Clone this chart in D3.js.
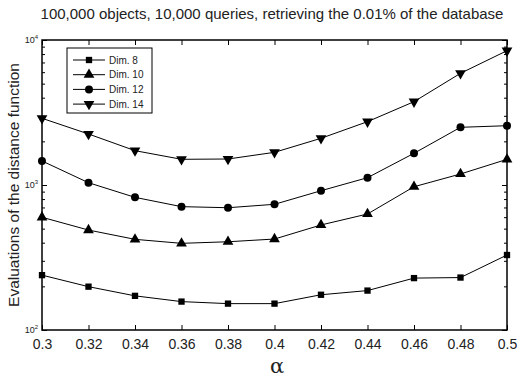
<!DOCTYPE html>
<html>
<head>
<meta charset="utf-8">
<script src="https://cdn.jsdelivr.net/npm/d3@7"></script>
<style>
  body { margin: 0; background: #fff; }
  text { font-family: "Liberation Sans", Arial, sans-serif; fill: #222; }
</style>
</head>
<body>
<div id="chart"></div>
<script>
/** x values (alpha) */
var alphas = [0.3, 0.32, 0.34, 0.36, 0.38, 0.4, 0.42, 0.44, 0.46, 0.48, 0.5];

/** evaluations of the distance function for each dimension */
var dim8  = [239, 199, 172, 157, 152, 152, 175, 187, 228, 230, 329];
var dim10 = [599, 489, 422, 396, 406, 424, 530, 631, 973, 1191, 1503];
var dim12 = [1465, 1037, 822, 709, 697, 736, 913, 1123, 1654, 2500, 2564];
var dim14 = [2884, 2248, 1725, 1504, 1511, 1680, 2099, 2733, 3755, 5893, 8440];

var seriesNames = ["Dim. 8", "Dim. 10", "Dim. 12", "Dim. 14"];
var xTicks = [0.3, 0.32, 0.34, 0.36, 0.38, 0.4, 0.42, 0.44, 0.46, 0.48, 0.5];
var yDecades = [100, 1000, 10000];

var W = 520, H = 380;
var margin = {top: 40, right: 13, bottom: 50, left: 42};
var width = W - margin.left - margin.right,
    height = H - margin.top - margin.bottom;

var svg = d3.select("#chart").append("svg")
  .attr("width", W).attr("height", H);

var g = svg.append("g")
  .attr("transform", "translate(" + margin.left + "," + margin.top + ")");

var x = d3.scaleLinear().domain([0.3, 0.5]).range([0, width]);
var y = d3.scaleLog().domain([100, 10000]).range([height, 0]);

/** minor log ticks */
var minor = [];
[100, 1000].forEach(function(d) {
  for (var k = 2; k <= 9; k++) minor.push(d * k);
});

/** ticks pointing inward on all four sides */
g.append("g").attr("transform", "translate(0," + height + ")")
  .call(d3.axisBottom(x).tickValues(xTicks).tickSize(-5)
    .tickFormat(function(d) { return d3.format("")(+d.toFixed(2)); }))
  .call(function(a) {
    a.select(".domain").remove();
    a.selectAll("text").attr("dy", "1.15em").style("font-size", "14px").attr("fill", "#222");
  });
g.append("g")
  .call(d3.axisTop(x).tickValues(xTicks).tickSize(-5).tickFormat(""))
  .call(function(a) { a.select(".domain").remove(); });

g.append("g")
  .call(d3.axisLeft(y).tickValues(yDecades).tickSize(-5).tickFormat(""))
  .call(function(a) { a.select(".domain").remove(); });
g.append("g")
  .call(d3.axisLeft(y).tickValues(minor).tickSize(-3).tickFormat(""))
  .call(function(a) { a.select(".domain").remove(); });
g.append("g").attr("transform", "translate(" + width + ",0)")
  .call(d3.axisRight(y).tickValues(yDecades).tickSize(-5).tickFormat(""))
  .call(function(a) { a.select(".domain").remove(); });
g.append("g").attr("transform", "translate(" + width + ",0)")
  .call(d3.axisRight(y).tickValues(minor).tickSize(-3).tickFormat(""))
  .call(function(a) { a.select(".domain").remove(); });

/** y decade labels as 10 with superscript */
yDecades.forEach(function(d) {
  var t = g.append("text")
    .attr("x", -4).attr("y", y(d) + 3)
    .attr("text-anchor", "end")
    .style("font-size", "9px");
  t.append("tspan").text("10");
  t.append("tspan").attr("dy", -4).style("font-size", "6px").text(Math.round(Math.log10(d)));
});

/** frame */
g.append("rect")
  .attr("width", width).attr("height", height)
  .attr("fill", "none").attr("stroke", "#000").attr("stroke-width", 1.5);

/** series */
var allSeries = [dim8, dim10, dim12, dim14];
var symbols = [d3.symbolSquare, d3.symbolTriangle, d3.symbolCircle, d3.symbolTriangle];
var sizes = [40, 50, 50, 50];
var rotations = [0, 0, 0, 180];

var line = d3.line()
  .x(function(d, i) { return x(alphas[i]); })
  .y(function(d) { return y(d); });

allSeries.forEach(function(s, k) {
  g.append("path").datum(s)
    .attr("d", line)
    .attr("fill", "none").attr("stroke", "#000").attr("stroke-width", 1);
  g.selectAll(".m" + k).data(s).enter().append("path")
    .attr("class", "m" + k)
    .attr("d", d3.symbol().type(symbols[k]).size(sizes[k]))
    .attr("transform", function(d, i) {
      return "translate(" + x(alphas[i]) + "," + y(d) + ") rotate(" + rotations[k] + ")";
    })
    .attr("fill", "#000");
});

/** legend */
var lg = svg.append("g").attr("transform", "translate(67,48)");
lg.append("rect").attr("width", 85).attr("height", 65)
  .attr("fill", "#fff").attr("stroke", "#000").attr("stroke-width", 1);
seriesNames.forEach(function(name, k) {
  var yy = 12 + k * 14.7;
  lg.append("line").attr("x1", 6).attr("x2", 38).attr("y1", yy).attr("y2", yy)
    .attr("stroke", "#000");
  lg.append("path")
    .attr("d", d3.symbol().type(symbols[k]).size(sizes[k]))
    .attr("transform", "translate(22," + yy + ") rotate(" + rotations[k] + ")")
    .attr("fill", "#000");
  lg.append("text").attr("x", 42).attr("y", yy + 3.5)
    .style("font-size", "10px").text(name);
});

/** title and axis labels */
svg.append("text").attr("x", 272).attr("y", 19)
  .attr("text-anchor", "middle").style("font-size", "15px")
  .text("100,000 objects, 10,000 queries, retrieving the 0.01% of the database");

svg.append("text")
  .attr("transform", "translate(19," + (margin.top + height / 2) + ") rotate(-90)")
  .attr("text-anchor", "middle").style("font-size", "15.5px")
  .text("Evaluations of the distance function");

svg.append("text").attr("x", 277).attr("y", 373)
  .attr("text-anchor", "middle")
  .style("font-size", "21px").style("font-family", "'DejaVu Serif', serif")
  .text("α");
</script>
</body>
</html>
